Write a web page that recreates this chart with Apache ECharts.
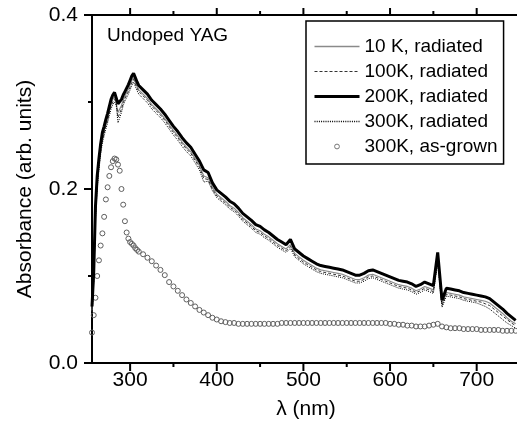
<!DOCTYPE html>
<html>
<head>
<meta charset="utf-8">
<script src="https://cdn.jsdelivr.net/npm/echarts@6/dist/echarts.min.js"></script>
<style>
html,body{margin:0;padding:0;background:#fff;}
#chart{width:517px;height:432px;}
</style>
</head>
<body>
<div id="chart"></div>
<script>
// wavelength grid (nm)
const lam = [256,258,260,262,264,266,268,270,272,274,276,278,280,282,284,286,288,290,292,294,296,298,300,302,304,306,308,310,
315,320,325,330,335,340,345,350,355,360,
365,370,375,380,385,390,395,400,405,410,
415,420,425,430,435,440,445,450,455,460,
465,470,475,480,485,490,495,500,505,510,
515,520,525,530,535,540,545,550,555,560,
565,570,575,580,585,590,595,600,605,610,
615,620,625,630,635,640,645,650,655,660,
665,670,675,680,685,690,695,700,705,710,
715,720,725,730,735,740,745];

const r10 = [0.06,0.098,0.172,0.208,0.229,0.246,0.259,0.267,0.275,0.282,0.29,0.298,0.303,0.306,0.304,0.288,0.287,0.296,0.302,0.307,0.311,0.315,0.32,0.325,0.328,0.323,0.318,0.314,
0.309,0.304,0.297,0.292,0.287,0.281,0.274,0.267,0.261,0.254,
0.248,0.243,0.235,0.227,0.215,0.213,0.202,0.194,0.19,0.186,
0.181,0.178,0.173,0.167,0.163,0.159,0.154,0.152,0.148,0.145,
0.141,0.137,0.134,0.131,0.136,0.126,0.122,0.118,0.115,0.112,
0.109,0.107,0.106,0.105,0.104,0.103,0.102,0.100,0.098,0.096,
0.096,0.098,0.101,0.102,0.100,0.098,0.096,0.094,0.092,0.090,
0.089,0.088,0.086,0.083,0.085,0.088,0.086,0.084,0.120,0.068,
0.081,0.080,0.079,0.078,0.076,0.075,0.074,0.073,0.072,0.071,
0.069,0.065,0.061,0.057,0.052,0.048,0.045];

const r100 = [0.058,0.095,0.168,0.204,0.226,0.243,0.256,0.264,0.272,0.279,0.287,0.295,0.300,0.303,0.300,0.282,0.280,0.292,0.299,0.304,0.308,0.312,0.317,0.322,0.326,0.321,0.316,0.312,
0.307,0.302,0.295,0.290,0.285,0.279,0.272,0.265,0.259,0.252,
0.246,0.241,0.233,0.225,0.212,0.211,0.200,0.192,0.188,0.184,
0.179,0.176,0.171,0.165,0.161,0.157,0.152,0.150,0.146,0.143,
0.139,0.135,0.132,0.129,0.134,0.124,0.120,0.116,0.113,0.110,
0.107,0.105,0.104,0.103,0.102,0.101,0.100,0.098,0.096,0.094,
0.094,0.096,0.099,0.100,0.098,0.096,0.094,0.092,0.090,0.088,
0.087,0.086,0.084,0.081,0.083,0.086,0.084,0.082,0.118,0.066,
0.079,0.078,0.077,0.076,0.074,0.073,0.072,0.071,0.070,0.068,
0.066,0.062,0.058,0.054,0.050,0.046,0.043];

const r200 = [0.065,0.105,0.18,0.215,0.235,0.252,0.265,0.272,0.28,0.287,0.295,0.303,0.308,0.311,0.31,0.298,0.296,0.303,0.308,0.312,0.316,0.32,0.325,0.33,0.333,0.328,0.323,0.319,
0.314,0.309,0.302,0.297,0.292,0.286,0.279,0.272,0.266,0.259,
0.253,0.248,0.240,0.232,0.222,0.219,0.207,0.199,0.195,0.191,
0.186,0.183,0.178,0.172,0.168,0.164,0.159,0.157,0.153,0.150,
0.146,0.142,0.139,0.136,0.142,0.131,0.127,0.123,0.120,0.117,
0.114,0.112,0.111,0.110,0.109,0.108,0.107,0.105,0.103,0.101,
0.101,0.103,0.106,0.107,0.105,0.103,0.101,0.099,0.097,0.095,
0.094,0.093,0.091,0.088,0.090,0.093,0.091,0.089,0.127,0.072,
0.086,0.085,0.084,0.083,0.081,0.080,0.079,0.078,0.077,0.076,
0.074,0.070,0.066,0.062,0.057,0.053,0.049];

const r300 = [0.055,0.092,0.165,0.2,0.222,0.24,0.253,0.261,0.269,0.276,0.284,0.292,0.297,0.300,0.296,0.276,0.274,0.288,0.296,0.301,0.305,0.309,0.314,0.319,0.323,0.318,0.313,0.309,
0.304,0.299,0.292,0.287,0.282,0.276,0.269,0.262,0.256,0.249,
0.243,0.238,0.230,0.222,0.208,0.209,0.198,0.190,0.186,0.182,
0.177,0.174,0.169,0.163,0.159,0.155,0.150,0.148,0.144,0.141,
0.137,0.133,0.130,0.127,0.132,0.122,0.118,0.114,0.111,0.108,
0.105,0.103,0.102,0.101,0.100,0.099,0.098,0.096,0.094,0.092,
0.092,0.094,0.097,0.098,0.096,0.094,0.092,0.090,0.088,0.086,
0.085,0.084,0.082,0.079,0.081,0.084,0.082,0.080,0.115,0.064,
0.077,0.076,0.075,0.074,0.072,0.071,0.070,0.069,0.067,0.065,
0.062,0.058,0.054,0.050,0.046,0.043,0.040];

const asGrown = [0.035,0.055,0.075,0.1,0.118,0.135,0.149,0.168,0.188,0.202,0.215,0.225,0.232,0.235,0.234,0.228,0.221,0.2,0.182,0.163,0.150,0.143,0.139,0.137,0.135,0.132,0.130,0.128,
0.125,0.121,0.117,0.112,0.107,0.101,0.093,0.088,0.083,0.078,
0.073,0.069,0.065,0.061,0.058,0.055,0.052,0.050,0.048,0.047,
0.046,0.046,0.045,0.045,0.045,0.045,0.045,0.045,0.045,0.045,
0.045,0.045,0.046,0.046,0.046,0.046,0.046,0.046,0.046,0.046,
0.046,0.046,0.046,0.046,0.046,0.046,0.046,0.046,0.046,0.046,
0.046,0.046,0.046,0.046,0.046,0.046,0.046,0.045,0.045,0.044,
0.044,0.043,0.043,0.042,0.042,0.042,0.043,0.044,0.045,0.042,
0.041,0.040,0.040,0.040,0.039,0.039,0.039,0.039,0.038,0.038,
0.038,0.038,0.038,0.037,0.037,0.037,0.037];

const seriesNames = ['10 K, radiated','100K, radiated','200K, radiated','300K, radiated','300K, as-grown'];
const xMajor = [300,400,500,600,700];
const xMinor = [350,450,550,650];
const yMajor = [0,0.2,0.4];
const yMinor = [0.1,0.3];
const annotation = 'Undoped YAG';
const xName = 'λ (nm)';
const yName = 'Absorbance (arb. units)';

const X_MIN = 256, X_MAX = 750, Y_MIN = 0, Y_MAX = 0.4;

function pairs(v){ const n=Math.min(lam.length,v.length); const out=[]; for(let i=0;i<n;i++) out.push([lam[i],v[i]]); return out; }

const FONT = '"Liberation Sans", Arial, Helvetica, sans-serif';
const chart = echarts.init(document.getElementById('chart'), null, {renderer:'canvas'});

const annotationGraphic = {id:'note', type:'text', left:107, top:26, z:20,
  style:{text:annotation, fontSize:19, fill:'#000', font:'19px '+FONT}};

chart.setOption({
  animation:false,
  backgroundColor:'#fff',
  grid:{left:92, top:15, width:428, height:348, containLabel:false, outerBoundsMode:'none'},
  xAxis:[
    {type:'value', min:X_MIN, max:X_MAX, position:'bottom', splitLine:{show:false},
      axisLine:{show:true,onZero:false,lineStyle:{color:'#000',width:2}},
      axisTick:{show:false},
      axisLabel:{show:true,customValues:xMajor,fontSize:21,color:'#000',fontFamily:FONT,margin:7},
      name:xName, nameLocation:'middle', nameGap:36,
      nameTextStyle:{fontSize:21,color:'#000',fontFamily:FONT}},
    {type:'value', min:X_MIN, max:X_MAX, position:'top', splitLine:{show:false},
      axisLine:{show:true,onZero:false,lineStyle:{color:'#000',width:2}},
      axisTick:{show:false}, axisLabel:{show:false}}
  ],
  yAxis:{
    type:'value', min:Y_MIN, max:Y_MAX, interval:0.2,
    axisLine:{show:true,onZero:false,lineStyle:{color:'#000',width:2}},
    axisTick:{show:false}, minorTick:{show:false},
    splitLine:{show:false},
    axisLabel:{fontSize:21,color:'#000',fontFamily:FONT,margin:14,formatter:v=>v.toFixed(1)},
    name:yName, nameLocation:'middle', nameGap:56,
    nameTextStyle:{fontSize:21,color:'#000',fontFamily:FONT}
  },
  legend:{
    orient:'vertical', left:306, top:21, padding:[16,6,8,7],
    itemWidth:45, itemHeight:6, itemGap:6,
    borderColor:'#000', borderWidth:1.5, backgroundColor:'#fff',
    selectedMode:false,
    textStyle:{fontSize:19,color:'#000',fontFamily:FONT},
    data:[
      {name:seriesNames[0], itemStyle:{opacity:0}, lineStyle:{color:'#8a8a8a',width:1.5,type:'solid'}},
      {name:seriesNames[1], itemStyle:{opacity:0}, lineStyle:{color:'#333',width:1,type:[3,2]}},
      {name:seriesNames[2], itemStyle:{opacity:0}, lineStyle:{color:'#000',width:3,type:'solid'}},
      {name:seriesNames[3], itemStyle:{opacity:0}, lineStyle:{color:'#000',width:1.3,type:[1,1.2]}},
      {name:seriesNames[4], itemStyle:{color:'transparent',borderColor:'#777',borderWidth:1}, lineStyle:{width:0,opacity:0}}
    ]
  },
  graphic:[annotationGraphic],
  series:[
    {name:seriesNames[4], type:'line', data:pairs(asGrown), symbol:'circle', symbolSize:5, showSymbol:true, showAllSymbol:true,
     lineStyle:{width:0,opacity:0}, itemStyle:{color:'transparent',borderColor:'#5f5f5f',borderWidth:1}, z:2},
    {name:seriesNames[0], type:'line', data:pairs(r10), symbol:'none', lineStyle:{color:'#8a8a8a',width:1.2}, z:3},
    {name:seriesNames[1], type:'line', data:pairs(r100), symbol:'none', lineStyle:{color:'#333',width:1,type:[3,2]}, z:3},
    {name:seriesNames[3], type:'line', data:pairs(r300), symbol:'none', lineStyle:{color:'#000',width:1,type:[1,1.2]}, z:3},
    {name:seriesNames[2], type:'line', data:pairs(r200), symbol:'none', lineStyle:{color:'#000',width:3}, z:4}
  ]
});

// tick marks: positions come from the chart's own axis scales
const finder = {xAxisIndex:0, yAxisIndex:0};
const ticks = [];
function px(x, y){ return chart.convertToPixel(finder, [x, y]); }
function addXTicks(values, lenB, lenT, tag){
  values.forEach((v, i) => {
    const b = px(v, Y_MIN), t = px(v, Y_MAX);
    ticks.push({id:'xb'+tag+i, type:'rect', z:20, silent:true, shape:{x:b[0]-1, y:b[1], width:2, height:lenB}, style:{fill:'#000'}});
    ticks.push({id:'xt'+tag+i, type:'rect', z:20, silent:true, shape:{x:t[0]-1, y:t[1]-lenT, width:2, height:lenT}, style:{fill:'#000'}});
  });
}
function addYTicks(values, len, tag){
  values.forEach((v, i) => {
    const p = px(X_MIN, v);
    ticks.push({id:'y'+tag+i, type:'rect', z:20, silent:true, shape:{x:p[0]-len, y:p[1]-1, width:len, height:2}, style:{fill:'#000'}});
  });
}
addXTicks(xMajor, 8, 7, 'M');
addXTicks(xMinor, 4, 4, 'm');
addYTicks(yMajor, 8, 'M');
addYTicks(yMinor, 4, 'm');
chart.setOption({graphic:[annotationGraphic].concat(ticks)});
</script>
</body>
</html>
